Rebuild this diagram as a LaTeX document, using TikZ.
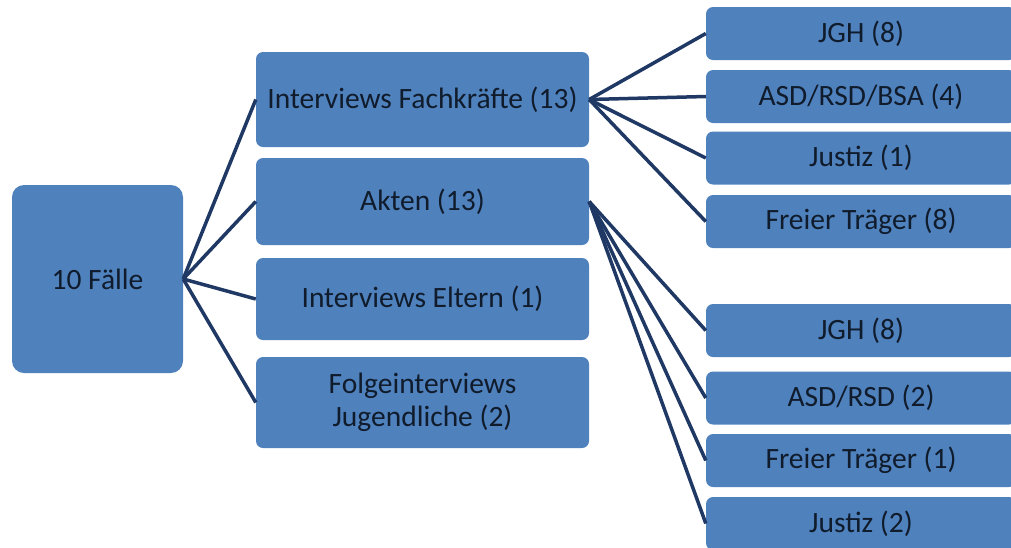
\documentclass[tikz,border=0pt]{standalone}
\usepackage{fontspec}
\setmainfont{Carlito}
\usetikzlibrary{positioning}
\definecolor{boxblue}{HTML}{4F81BD}
\definecolor{linkblue}{HTML}{1F3864}
\definecolor{textdark}{HTML}{101B2B}
\tikzset{
  box/.style={fill=boxblue, rounded corners=7pt, text=textdark, inner sep=0pt,
    align=center, font=\fontsize{29.5}{33}\selectfont},
  midbox/.style={box, minimum width=333pt},
  sidebox/.style={box, minimum width=310pt, minimum height=53pt},
  link/.style={draw=linkblue, line width=3.5pt},
}

\begin{document}
\begin{tikzpicture}[x=1pt, y=-1pt]
\newcommand\MX{422.5}
\newcommand\RX{861}

\useasboundingbox (0,0) rectangle (1011,547);
\clip (0,0) rectangle (1011,547);

\node[box, minimum width=171pt, minimum height=188pt, rounded corners=12pt]
  (root) at (97.5,279) {10 Fälle};

% middle column
\node[midbox, minimum height=95pt] (fach) at (\MX,99.5) {Interviews Fachkräfte (13)};
\node[midbox, minimum height=87pt] (akten) at (\MX,201.5) {Akten (13)};
\node[midbox, minimum height=82pt] (eltern) at (\MX,299) {Interviews Eltern (1)};
\node[midbox, minimum height=91pt] (folge) at (\MX,402.5) {Folgeinterviews\\Jugendliche (2)};

% right column, Fachkräfte
\node[sidebox] (fjgh) at (\RX,33.5) {JGH (8)};
\node[sidebox] (fasd) at (\RX,96.5) {ASD/RSD/BSA (4)};
\node[sidebox] (fjustiz) at (\RX,158) {Justiz (1)};
\node[sidebox] (ftraeger) at (\RX,221.5) {Freier Träger (8)};

% right column, Akten
\node[sidebox] (ajgh) at (\RX,330.5) {JGH (8)};
\node[sidebox] (aasd) at (\RX,398) {ASD/RSD (2)};
\node[sidebox] (atraeger) at (\RX,460.5) {Freier Träger (1)};
\node[sidebox] (ajustiz) at (\RX,523.5) {Justiz (2)};

\foreach \m in {fach,akten,eltern,folge}
  \draw[link] (root.east) -- (\m.west);
\foreach \r in {fjgh,fasd,fjustiz,ftraeger}
  \draw[link] (fach.east) -- (\r.west);
\foreach \r in {ajgh,aasd,atraeger,ajustiz}
  \draw[link] (akten.east) -- (\r.west);
\end{tikzpicture}
\end{document}
